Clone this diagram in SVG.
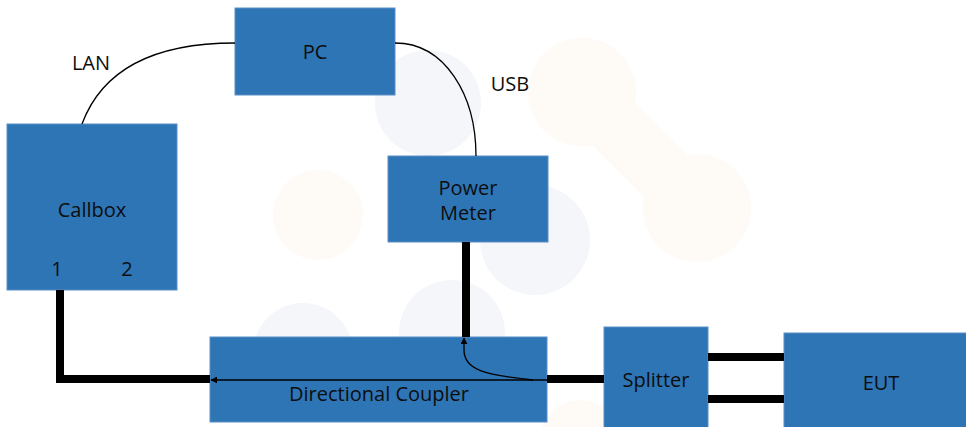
<svg xmlns="http://www.w3.org/2000/svg" width="966" height="427" viewBox="0 0 966 427">
<style>
.box{fill:#2E75B6;stroke:#5a8fc6;stroke-width:1}
.lbl{font-family:"Open Sans","Noto Sans",sans-serif;font-size:20px;fill:#0d0d0d;text-anchor:middle}
.thick{stroke:#000;stroke-width:8;fill:none}
.thin{stroke:#000;stroke-width:1.3;fill:none}
.bgb{fill:#f5f6f9}
.bgo{fill:#fefbf6}
</style>
<defs>
<marker id="ah" viewBox="0 0 10 10" refX="9" refY="5" markerWidth="7" markerHeight="7" orient="auto-start-reverse" markerUnits="userSpaceOnUse">
<path d="M0,0 L10,5 L0,10 z" fill="#000"/>
</marker>
</defs>
<rect width="966" height="427" fill="#fff"/>
<g id="background">
<circle class="bgb" cx="428" cy="103" r="53"/>
<circle class="bgo" cx="582" cy="92" r="54"/>
<circle class="bgo" cx="697" cy="208" r="54"/>
<line x1="600" y1="110" x2="680" y2="190" stroke="#fefbf6" stroke-width="60"/>
<circle class="bgo" cx="318" cy="215" r="45"/>
<circle class="bgb" cx="535" cy="240" r="55"/>
<circle class="bgb" cx="303" cy="353" r="50"/>
<circle class="bgb" cx="452" cy="333" r="53"/>
<circle class="bgo" cx="580" cy="440" r="40"/>
</g>
<g id="callbox">
<rect class="box" x="7" y="124" width="170" height="166"/>
<text class="lbl" x="92" y="217">Callbox</text>
<text class="lbl" x="57" y="276">1</text>
<text class="lbl" x="127" y="276">2</text>
</g>
<g id="pc">
<rect class="box" x="235" y="8" width="160" height="87"/>
<text class="lbl" x="315" y="59">PC</text>
</g>
<g id="power-meter">
<rect class="box" x="388" y="156" width="160" height="86"/>
<text class="lbl" x="468" y="195">Power</text>
<text class="lbl" x="468" y="220">Meter</text>
</g>
<g id="directional-coupler">
<rect class="box" x="210" y="337" width="337" height="85"/>
<text class="lbl" x="379" y="401">Directional Coupler</text>
</g>
<g id="splitter">
<rect class="box" x="604" y="327" width="104" height="105"/>
<text class="lbl" x="656" y="387">Splitter</text>
</g>
<g id="eut">
<rect class="box" x="784" y="333" width="186" height="100"/>
<text class="lbl" x="881" y="390">EUT</text>
</g>
<g id="labels">
<text class="lbl" x="91" y="70">LAN</text>
<text class="lbl" x="510" y="91">USB</text>
</g>
<g id="connectors">
<path class="thin" d="M82,124 C105,62 165,43 235,43"/>
<path class="thin" d="M395,43 C445,43 476,95 476,156"/>
<polyline class="thick" points="60,290 60,379 210,379"/>
<line class="thick" x1="466" y1="242" x2="466" y2="337"/>
<line class="thick" x1="547" y1="379" x2="604" y2="379"/>
<line class="thick" x1="708" y1="357" x2="784" y2="357"/>
<line class="thick" x1="708" y1="399" x2="784" y2="399"/>
<line class="thin" x1="547" y1="380" x2="211" y2="380" marker-end="url(#ah)"/>
<path class="thin" d="M533,380 C485,375 464,370 464,350 L464,338" marker-end="url(#ah)"/>
</g>
</svg>
